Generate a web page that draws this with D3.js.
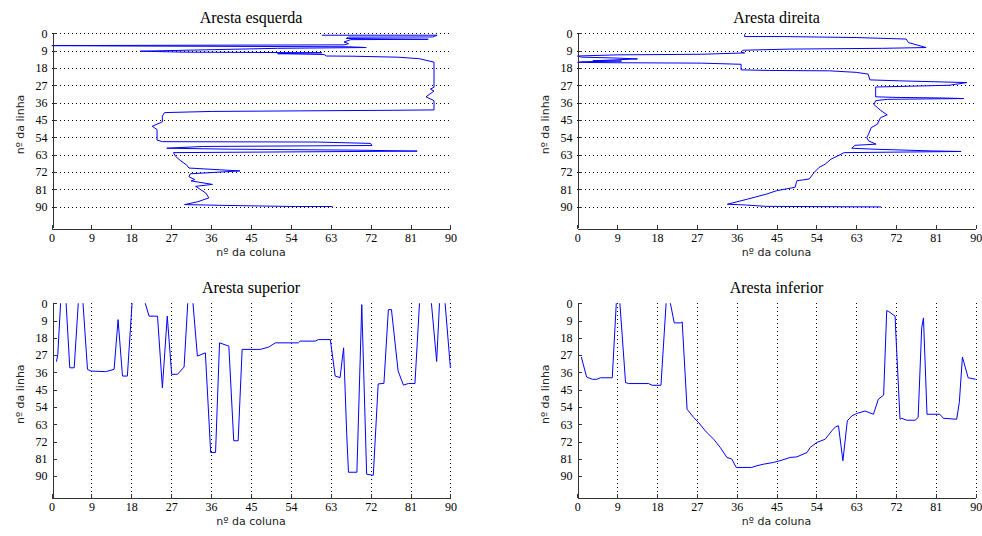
<!DOCTYPE html>
<html>
<head>
<meta charset="utf-8">
<script src="https://cdn.jsdelivr.net/npm/d3@7"></script>
<style>
  body { margin: 0; background: #fff; }
  svg { display: block; }
</style>
</head>
<body>
<svg id="chart" width="982" height="536"></svg>
<script>
// ── tick labels shared by every panel ──
const ticks = [0, 9, 18, 27, 36, 45, 54, 63, 72, 81, 90];

// ── Aresta esquerda (boundary path: coluna, linha) ──
const esqCol = [61, 87, 86, 67, 66.5, 85, 67.5, 66, 67, 66, 0, 17, 67, 71, 51, 20, 30, 61, 51, 61.5, 62, 68, 78, 83, 86.3,
  86.3, 85.5, 86.3, 84.5, 86.3, 86.3, 77, 56, 36, 25.5, 25, 25, 22.7, 23.8, 23.8, 25, 60, 72, 72.3, 34, 26, 40, 68.5, 82.5,
  27.5, 28, 29, 30.5, 31, 42.5, 31.3, 31, 32.3, 31.5, 36.3, 32.5, 33.5, 34.8, 35.5, 33, 30, 38.6, 55, 63.4];
const esqLin = [1, 1, 1.9, 2, 2.7, 3.1, 3.3, 4.5, 5.4, 6, 6.4, 6.6, 7, 7.4, 7.8, 9.3, 9.8, 10.1, 10.6, 11, 11.8, 11.9, 12.4, 13.2, 15,
  28, 29, 30, 33, 35, 39.8, 40, 40.3, 40.6, 41.2, 43, 46, 48.3, 50, 55.5, 56.3, 56.5, 57.2, 58.3, 58.8, 59.7, 60.2, 60.7, 61.2,
  62, 64, 66, 68.5, 70, 71.5, 73, 74.5, 76, 76.7, 78.5, 79.5, 81, 83, 85.5, 87.5, 89, 89.4, 90, 90];

// ── Aresta direita ──
const dirCol = [37.8, 37.8, 46.5, 63, 74.3, 74.8, 78.8, 69, 48, 37.4, 37, 37.8, 28, 9, 0, 1, 8, 13.6, 3.5, 10, 1, 0, 9, 28, 37,
  37, 43.4, 57, 63, 65.7, 66.1, 72.7, 88, 84, 67.4, 67.4, 72, 82.5, 87.3, 70, 67.4, 67, 68.5, 70, 68.5, 67.8, 66.4, 65.8,
  65.4, 65.8, 67.5, 62.7, 62, 66.8, 79.9, 86.7, 60.3, 58.8, 57.3, 56, 54.6, 53.5, 52.4, 49.6, 49.2, 45, 42.8, 38.4, 33.9,
  38, 42.5, 59.6, 68.6];
const dirLin = [0.5, 1.7, 1.7, 2.2, 3, 4.8, 7.4, 7.8, 8.2, 8.8, 9.8, 10.2, 10.9, 11.2, 11.8, 12.4, 12.8, 13.3, 14.3, 14.4, 14.8, 15.1, 15.3, 15.5, 16.1,
  19, 19.3, 19.5, 20.3, 21.2, 24.2, 24.7, 25.6, 27, 27.9, 33, 33.3, 33.6, 33.9, 34.3, 35, 37, 40, 42.4, 43.8, 47.2, 49, 52.4,
  54.2, 55.9, 57.6, 58.2, 59.7, 60.2, 61.1, 61.4, 62, 63.7, 65.4, 68, 69.7, 72.3, 75.7, 76.6, 80, 81.8, 83.5, 86.2, 88.8,
  89.2, 89.9, 90.1, 90.2];

// ── Aresta superior (negative linha = outside the axes, clipped) ──
const supCol = [1.1, 1.4, 2.1, 3.2, 4.1, 5.1, 6.1, 7, 8.1, 8.9, 12.2, 14.1, 15, 16, 17.1, 18.3, 20.5, 22, 23.9, 25, 26.1, 27.1,
  28.4, 29.9, 30.8, 31.8, 32.9, 34.7, 35.9, 37, 37.9, 40, 41.1, 42.1, 43, 47.1, 49, 50.5, 55.7, 56.1, 59.5, 60.2, 62.9,
  64, 65.1, 65.9, 66.6, 67, 68.9, 70, 71.1, 72.6, 73.7, 75, 76, 76.7, 78.2, 79.4, 80.5, 82, 83.1, 85.6, 86.9, 87.6, 88.7, 90];
const supLin = [30.4, 26.6, -3, -3, 33.6, 33.6, -3, -3, 34.4, 35.3, 35.6, 34.4, 8.5, 37.9, 37.9, -5, -5, 6.7, 6.7, 44, 6.7, 37,
  37, 33.2, -3, -3, 27.5, 25.8, 77.7, 77.7, 20.6, 22.3, 71.6, 71.6, 24, 24, 22.8, 20.6, 20.6, 19.7, 19.7, 18.9, 18.9,
  37.9, 38.7, 23.2, 68, 88, 88, 0.7, 89, 89.6, 42, 41.7, 3.3, 3.3, 35.3, 42.6, 41.8, 41.8, -3, -3, 30.3, -3, -3, 33.7];

// ── Aresta inferior ──
const infCol = [0.9, 2.1, 3.4, 4.4, 5.2, 7.9, 8.9, 9.5, 10.9, 11.6, 16.1, 16.9, 18.9, 20.2, 20.6, 21.9, 23.3, 23.7, 24.8, 26.3,
  27.4, 28.9, 30.8, 32.3, 33.8, 34.9, 35.9, 39.4, 40.6, 42.1, 44.3, 45.8, 48.1, 49.6, 51.9, 52.6, 54.1, 56, 57.5, 58.3, 59,
  60, 61, 62, 63.1, 65, 66.9, 68, 69.2, 69.9, 70.3, 71.8, 71.9, 72.9, 73.3, 74.4, 76.3, 77, 77.8, 78.2, 79, 81.9, 82.7,
  85.7, 86.3, 87, 88.3, 90];
const infLin = [27.9, 38.4, 39.6, 39.6, 38.8, 38.8, -4, -4, 41.3, 41.8, 41.8, 42.7, 42.7, -5, -5, 10.2, 10.2, 9.7, 55.2, 59.5,
  62.1, 66.4, 70.8, 75.1, 80.3, 81.1, 85.5, 85.5, 84.6, 83.8, 82.9, 82, 80.3, 80, 77.7, 75.1, 72.5, 70.8, 66.4, 64.4, 63.8,
  82, 61.2, 58.7, 57.4, 56.1, 57.8, 50, 47.8, 3.8, 4.2, 6.7, 12.8, 60.4, 59.9, 60.9, 60.9, 59.5, 12.8, 7.6, 57.8, 57.8, 59.9,
  60.4, 51.7, 28, 38.8, 39.6];

const panels = [
  { id: 'esq', title: 'Aresta esquerda', col: esqCol, lin: esqLin, x: [51.6, 450.4], y: [33.3, 227.7], grid: 'h' },
  { id: 'dir', title: 'Aresta direita',  col: dirCol, lin: dirLin, x: [577.3, 975.7], y: [33.3, 227.7], grid: 'h' },
  { id: 'sup', title: 'Aresta superior', col: supCol, lin: supLin, x: [51.6, 450.4], y: [303.3, 497.2], grid: 'v' },
  { id: 'inf', title: 'Aresta inferior', col: infCol, lin: infLin, x: [577.3, 975.7], y: [303.3, 497.2], grid: 'v' }
];

const svg = d3.select('#chart');
svg.append('rect').attr('width', 982).attr('height', 536).attr('fill', '#fff');

panels.forEach(p => {
  const x = d3.scaleLinear().domain([0, 90]).range(p.x);
  const y = d3.scaleLinear().domain([0, 101]).range(p.y);
  const g = svg.append('g');

  // dotted grid
  const grid = g.append('g')
    .attr('stroke', '#000')
    .attr('stroke-width', 1)
    .attr('stroke-dasharray', '1,3')
    .attr('shape-rendering', 'crispEdges');
  if (p.grid === 'h') {
    grid.selectAll('line').data(ticks).join('line')
      .attr('x1', x(0)).attr('x2', x(90))
      .attr('y1', d => Math.round(y(d)) + 0.5).attr('y2', d => Math.round(y(d)) + 0.5);
  } else {
    grid.selectAll('line').data(ticks.filter(d => d > 0)).join('line')
      .attr('y1', y(0)).attr('y2', y(101))
      .attr('x1', d => Math.round(x(d)) + 0.5).attr('x2', d => Math.round(x(d)) + 0.5);
  }

  // clipped boundary line
  g.append('clipPath').attr('id', 'clip-' + p.id)
    .append('rect')
    .attr('x', x(0)).attr('y', y(0))
    .attr('width', x(90) - x(0) + 1).attr('height', y(101) - y(0));

  const pts = p.col.map((c, i) => [c, p.lin[i]]);
  g.append('path')
    .attr('clip-path', `url(#clip-${p.id})`)
    .attr('d', d3.line().x(d => x(d[0])).y(d => y(d[1]))(pts))
    .attr('fill', 'none')
    .attr('stroke', '#0000ff')
    .attr('stroke-width', 1);

  // axes
  const ax = g.append('g')
    .attr('transform', `translate(0,${Math.round(y(101)) + 0.5})`)
    .call(d3.axisBottom(x).tickValues(ticks).tickSizeInner(-4).tickSizeOuter(0).tickPadding(4));
  ax.selectAll('text').attr('y', 13).attr('dy', null);

  const ay = g.append('g')
    .attr('transform', `translate(${Math.round(x(0)) + 0.5},0)`)
    .call(d3.axisLeft(y).tickValues(ticks).tickSizeInner(-4).tickSizeOuter(0).tickPadding(5));

  [ax, ay].forEach(a => {
    a.select('.domain').attr('stroke', '#333').attr('shape-rendering', 'crispEdges');
    a.selectAll('.tick line').attr('stroke', '#333').attr('shape-rendering', 'crispEdges');
    a.selectAll('text')
      .attr('fill', '#000')
      .style('font-family', '"Liberation Serif", "Times New Roman", serif')
      .style('font-size', '12px');
  });

  const cx = (p.x[0] + p.x[1]) / 2;
  g.append('text')
    .attr('x', cx).attr('y', p.y[0] - 10.6)
    .attr('text-anchor', 'middle')
    .style('font-family', '"Liberation Serif", "Times New Roman", serif')
    .style('font-size', '16px')
    .text(p.title);

  g.append('text')
    .attr('x', cx).attr('y', p.y[1] + 28)
    .attr('text-anchor', 'middle')
    .attr('fill', '#222')
    .style('font-family', '"DejaVu Sans", sans-serif')
    .style('font-size', '11px')
    .text('nº da coluna');

  g.append('text')
    .attr('transform', `translate(${p.x[0] - 28},${(p.y[0] + p.y[1]) / 2 - 6}) rotate(-90)`)
    .attr('text-anchor', 'middle')
    .attr('fill', '#222')
    .style('font-family', '"DejaVu Sans", sans-serif')
    .style('font-size', '11px')
    .text('nº da linha');
});
</script>
</body>
</html>
